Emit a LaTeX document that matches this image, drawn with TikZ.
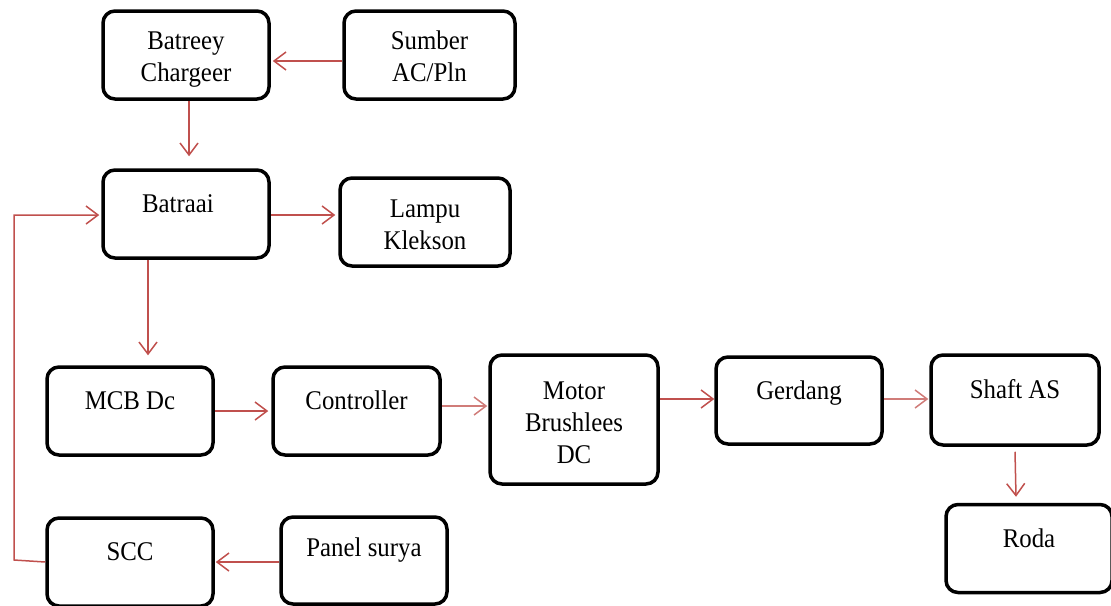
\documentclass[tikz,border=0pt]{standalone}
\usepackage{fontspec}
\setmainfont{Liberation Serif}[FakeStretch=0.92]
\usepackage{tikz}
\usetikzlibrary{arrows.meta}
\usetikzlibrary{positioning}
\definecolor{merah}{HTML}{C0504D}

\begin{document}
\begin{tikzpicture}[x=0.5pt, y=-0.5pt, kotak/.style={draw, line width=1.75pt, rounded corners=6pt, align=center, font=\fontsize{13.5}{16}\selectfont, minimum width=83pt, minimum height=44pt, inner sep=2pt, text height=26.3pt, text depth=0pt}, atas/.style={kotak, text height=9pt, text depth=10.5pt}, panah/.style={merah, line width=0.75pt, -{Straight Barb[length=6pt, width=9pt, line width=0.75pt]}}]
	\useasboundingbox (0,0) rectangle (1111,605);
	\node[kotak] (charger) at (186,55) {Batreey\\Chargeer};
	\node[kotak, minimum width=85.5pt] (sumber) at (429.5,55) {Sumber\\AC/Pln};
	\node[atas] (batraai) at (186,214) {Batraai\kern8pt};
	\node[kotak, minimum width=85pt, text height=27.5pt] (lampu) at (425,222) {Lampu\\Klekson};
	\node[atas] (mcb) at (130,411) {MCB Dc};
	\node[atas, minimum width=83.5pt] (controller) at (356.5,411) {Controller};
	\node[kotak, minimum width=84pt, minimum height=64.5pt, text height=43.5pt] (motor) at (574,419.5) {Motor\\Brushlees\\DC};
	\node[atas, minimum height=43.5pt] (gerdang) at (799,400.5) {Gerdang};
	\node[atas, minimum width=84pt, minimum height=45pt] (shaft) at (1015,400) {Shaft AS};
	\node[atas] (roda) at (1029,548.5) {Roda};
	\node[atas] (scc) at (130,562) {SCC};
	\node[atas, minimum height=43.5pt, text depth=13.5pt] (panel) at (364,560.5) {Panel surya};
	\coordinate (belok) at (14,560);
	\draw[panah] ([yshift=-3pt]sumber.west) -- ([yshift=-3pt, xshift=1pt]charger.east);
	\draw[panah] ([xshift=1.5pt]charger.south) -- ([xshift=1.5pt, yshift=6pt]batraai.north);
	\draw[panah] ([yshift=-0.5pt]batraai.east) -- ([yshift=-0.5pt, xshift=-1.5pt]batraai.east -| lampu.west);
	\draw[panah] (scc.west) -- (belok) |- ([yshift=-0.5pt, xshift=-1pt]batraai.west);
	\draw[panah] ([xshift=-19pt]batraai.south) -- ([xshift=9pt, yshift=5pt]mcb.north);
	\draw[panah] (mcb.east) -- ([xshift=-1.5pt]controller.west);
	\draw[panah, merah!75] ([yshift=2.5pt]controller.east) -- ([yshift=6.75pt, xshift=-0.5pt]motor.west);
	\draw[panah] ([yshift=10.25pt]motor.east) -- ([yshift=0.75pt]gerdang.west);
	\draw[panah, merah!75] ([yshift=0.75pt]gerdang.east) -- ([yshift=0.5pt, xshift=-0.5pt]shaft.west);
	\draw[panah] ([yshift=-2.5pt]shaft.south) -- ([xshift=-6.5pt, yshift=3pt]roda.north);
	\draw[panah] ([yshift=-0.75pt]panel.west) -- ([xshift=0.5pt]scc.east);
\end{tikzpicture}
\end{document}
